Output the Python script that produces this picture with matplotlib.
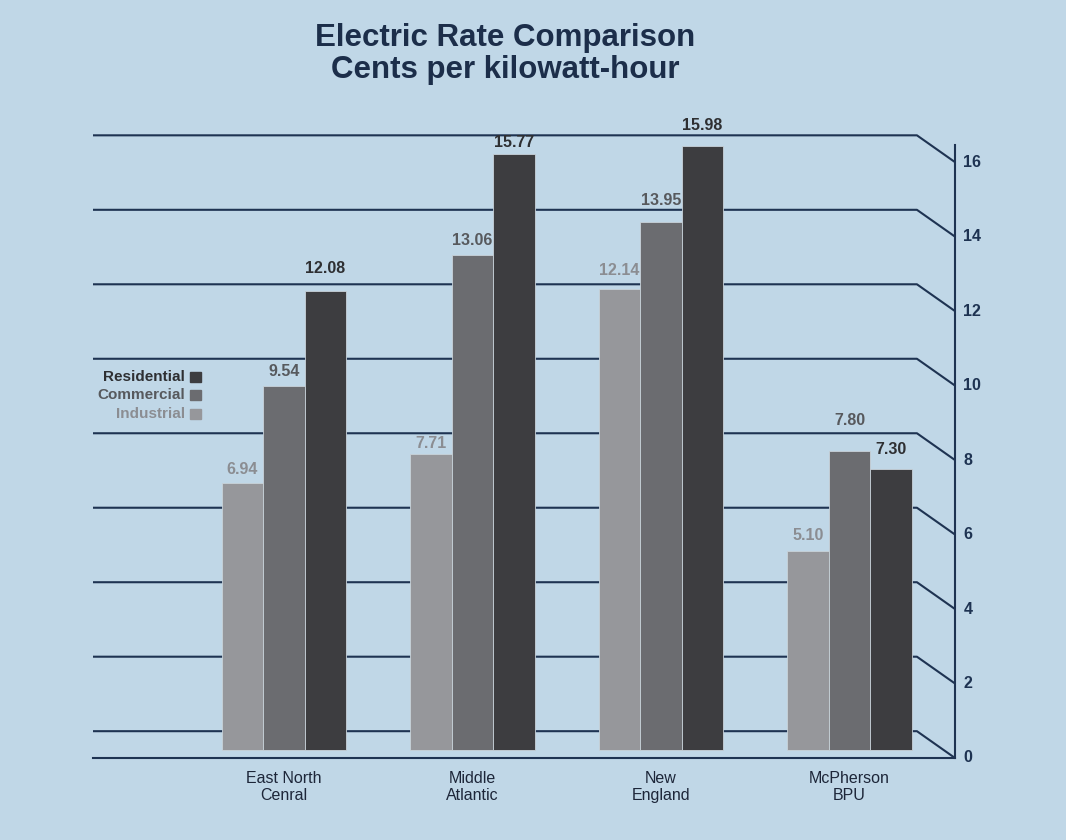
import matplotlib
matplotlib.use("Agg")
import matplotlib.pyplot as plt
import numpy as np

# data
categories = ["East North\nCenral", "Middle\nAtlantic", "New\nEngland", "McPherson\nBPU"]
series = ["Industrial", "Commercial", "Residential"]
industrial = [6.94, 7.71, 12.14, 5.10]
commercial = [9.54, 13.06, 13.95, 7.80]
residential = [12.08, 15.77, 15.98, 7.30]
y_ticks = [0, 2, 4, 6, 8, 10, 12, 14, 16]

# style: how far (points) each value label sits above its bar
label_offsets = [[9.5, 7.5, 13.5, 11.5],
                 [10, 10, 15, 21.5],
                 [16.5, 8, 14.5, 14.5]]

bg = "#c0d7e7"
navy = "#1e3352"
bar_colors = ["#96979b", "#6b6c70", "#3d3d40"]
label_colors = ["#8b8d92", "#57595d", "#2e2f32"]

W, H = 1066, 840
fig = plt.figure(figsize=(W / 100, H / 100), dpi=100, facecolor=bg)

# axes spans pixel x 93..955, y 110..758 (from top)
ax = fig.add_axes([93 / W, (H - 758) / H, (955 - 93) / W, (758 - 110) / H])
ax.set_facecolor(bg)
ax.set_xlim(-1.013, 3.56)
ax.set_ylim(0, 17.4)
for s in ax.spines.values():
    s.set_visible(False)
ax.set_xticks([])
ax.set_yticks([])

back = 0.72      # depth offset of the back wall
mid = 0.456      # depth offset of the bars
wall_x = 3.358
front_x = 3.56
lw = 1.5

# gridlines with perspective ends
for v in y_ticks:
    ax.plot([-1.013, wall_x, front_x], [v + back, v + back, v],
            color=navy, lw=lw, solid_capstyle="butt", zorder=1, clip_on=False)
    ax.text(front_x + 0.045, v, str(v), ha="left", va="center",
            fontsize=11.5, fontweight="bold", color=navy,
            family="Liberation Sans", clip_on=False)
ax.plot([-1.013, front_x], [0, 0], color=navy, lw=lw, zorder=1, clip_on=False)
ax.plot([front_x, front_x], [0, 16.46], color=navy, lw=lw, zorder=1, clip_on=False)

# bars
x = np.arange(len(categories))
width = 0.22
base = 0.215
for i, (vals, col, lcol) in enumerate(zip([industrial, commercial, residential],
                                          bar_colors, label_colors)):
    xs = x + (i - 1) * width
    tops = np.array(vals) + mid
    ax.bar(xs, tops - base, bottom=base, width=width, color=col,
           edgecolor="#c9d3da", linewidth=0.6, zorder=2)
    for xi, t, v, off in zip(xs, tops, vals, label_offsets[i]):
        ax.annotate(f"{v:.2f}", (xi, t), xytext=(0, off), textcoords="offset points",
                    ha="center", va="center", fontsize=11.5, fontweight="bold",
                    color=lcol, family="Liberation Sans", zorder=3)

# category labels
for xi, c in zip(x, categories):
    ax.text(xi, -0.36, c, ha="center", va="top", fontsize=11.5,
            color="#1d2639", family=["Liberation Sans Narrow", "Liberation Sans"],
            linespacing=1.15, clip_on=False)

# legend drawn by hand, Residential on top
leg_y = [414, 395, 377]
for name, col, lcol, py in zip(series, bar_colors, label_colors, leg_y):
    fig.text(185 / W, 1 - py / H, name, ha="right", va="center", fontsize=11,
             fontweight="bold", color=lcol, family="Liberation Sans")
    fig.patches.append(plt.Rectangle((190 / W, 1 - (py + 5) / H), 11 / W, 10 / H,
                                     transform=fig.transFigure, color=col,
                                     figure=fig))

# title
fig.text(505 / W, 1 - 38 / H, "Electric Rate Comparison", ha="center", va="center",
         fontsize=22.5, fontweight="bold", color="#1c2e4a", family="Liberation Sans")
fig.text(505 / W, 1 - 70 / H, "Cents per kilowatt-hour", ha="center", va="center",
         fontsize=22.5, fontweight="bold", color="#1c2e4a", family="Liberation Sans")

fig.savefig("out.png", dpi=100, facecolor=bg)
